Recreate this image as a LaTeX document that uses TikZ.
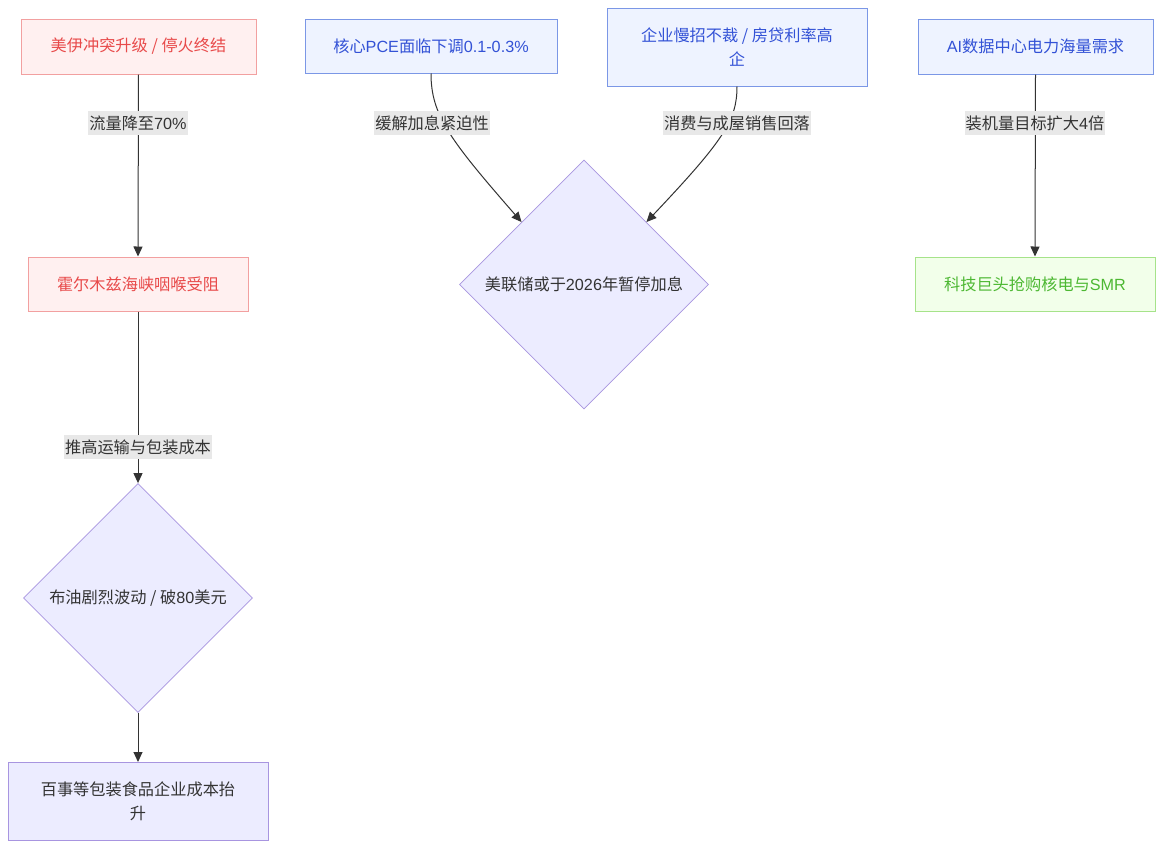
\documentclass[tikz,border=0pt]{standalone}
\usepackage{fontspec}
\setmainfont{Noto Sans CJK SC}
\newfontfamily\lat{Liberation Sans}
\usetikzlibrary{shapes.geometric,arrows.meta}
\definecolor{redfill}{HTML}{FFF0F0}
\definecolor{reddraw}{HTML}{F2A0A0}
\definecolor{redtext}{HTML}{E84A4A}
\definecolor{bluefill}{HTML}{EEF3FF}
\definecolor{bluedraw}{HTML}{7B97E6}
\definecolor{bluetext}{HTML}{3352D6}
\definecolor{greenfill}{HTML}{F2FFEA}
\definecolor{greendraw}{HTML}{A6E38A}
\definecolor{greentext}{HTML}{4DB833}
\definecolor{purfill}{HTML}{ECECFF}
\definecolor{purdraw}{HTML}{A895E0}
\definecolor{edgecol}{HTML}{333333}
\definecolor{labbg}{HTML}{E8E8E8}
\definecolor{maintext}{HTML}{333333}
\begin{document}
\begin{tikzpicture}[x=1pt,y=-1pt,
  every node/.style={font=\fontsize{16.2}{24}\selectfont, inner sep=0pt},
  boxbase/.style={rectangle, line width=1pt, align=center},
  redbox/.style={boxbase, draw=reddraw, fill=redfill, text=redtext},
  bluebox/.style={boxbase, draw=bluedraw, fill=bluefill, text=bluetext},
  greenbox/.style={boxbase, draw=greendraw, fill=greenfill, text=greentext},
  purbox/.style={boxbase, draw=purdraw, fill=purfill, text=maintext},
  decision/.style={diamond, aspect=1, line width=0.8pt, draw=purdraw, fill=purfill, text=maintext, inner sep=0pt},
  conn/.style={draw=edgecol, line width=1pt, -{Triangle[length=10pt,width=9pt]}},
  edgelabel/.style={fill=labbg, text=maintext, inner xsep=1pt, minimum height=24pt}
]
\useasboundingbox (0,0) rectangle (1163,849);
\fill[white] (0,0) rectangle (1163,849);

% nodes
\node[redbox, minimum width=235pt, minimum height=55pt] (A) at (138.5,46.5) {美伊冲突升级 / 停火终结};
\node[redbox, minimum width=220pt, minimum height=54pt] (B) at (138,284) {霍尔木兹海峡咽喉受阻};
\node[decision, minimum width=229pt, minimum height=229pt] (C) at (138,598) {布油剧烈波动 / 破{\lat 80}美元};
\node[purbox, minimum width=260pt, minimum height=78pt] (D) at (138,801.5) {百事等包装食品企业成本抬\\升};

\node[bluebox, minimum width=252pt, minimum height=54pt] (E) at (431,46) {核心{\lat PCE}面临下调{\lat 0.1-0.3\%}};
\node[bluebox, minimum width=260pt, minimum height=78pt] (F) at (737,47) {企业慢招不裁 / 房贷利率高\\企};
\node[decision, minimum width=249pt, minimum height=249pt] (G) at (584,284.5) {美联储或于{\lat 2026}年暂停加息};

\node[bluebox, minimum width=235pt, minimum height=55pt] (H) at (1035.5,46.5) {{\lat AI}数据中心电力海量需求};
\node[greenbox, minimum width=240pt, minimum height=54pt] (I) at (1035,284) {科技巨头抢购核电与{\lat SMR}};

% connectors
\draw[conn] (A.south) -- (B.north);
\draw[conn] (B.south) -- (C.north);
\draw[conn] (C.south) -- (D.north);
\draw[conn] (E.south) .. controls (431,115) and (450,140) .. (G.north west);
\draw[conn] (F.south) .. controls (737,120) and (724,140) .. (G.north east);
\draw[conn] (H.south) -- (I.north);

% labels
\node[edgelabel] (lAB) at (138,123) {流量降至{\lat 70\%}};
\node[edgelabel] (lBC) at (138,447) {推高运输与包装成本};
\node[edgelabel] (lEG) at (432,123) {缓解加息紧迫性};
\node[edgelabel] (lFG) at (737,123) {消费与成屋销售回落};
\node[edgelabel] (lHI) at (1035,123) {装机量目标扩大{\lat 4}倍};
\end{tikzpicture}
\end{document}
